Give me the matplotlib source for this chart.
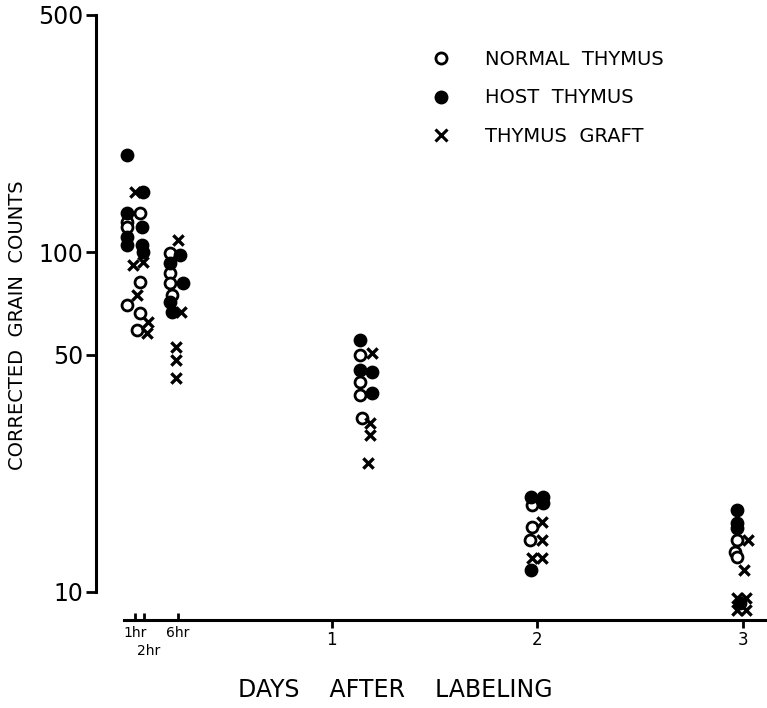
import matplotlib.pyplot as plt
from matplotlib.lines import Line2D

plt.rcParams['font.family'] = ['DejaVu Sans']

# time after labeling in days (1hr = 1/24 day), grain counts per animal
normal_dias = [0.066, 0.002, 0.002, 0.066, 0.002, 0.066, 0.051,
               0.212, 0.212, 0.212, 0.221,
               1.136, 1.136, 1.136, 1.144,
               1.972, 1.972, 1.965,
               2.970, 2.962, 2.970]
normal_graos = [130.6, 122.9, 118.8, 81.8, 70.0, 66.3, 59.1,
                99.6, 87.0, 81.3, 74.9,
                49.9, 41.5, 38.0, 32.5,
                18.0, 15.5, 14.2,
                14.2, 13.1, 12.7]

host_dias = [0.002, 0.080, 0.002, 0.002, 0.002, 0.074, 0.074, 0.080,
             0.260, 0.212, 0.275, 0.212, 0.221,
             1.136, 1.136, 1.193, 1.193,
             1.970, 2.025, 2.025, 1.970,
             2.970, 2.970, 2.970, 2.985]
host_graos = [193.6, 150.6, 130.6, 111.0, 105.1, 118.8, 105.1, 100.3,
              98.2, 93.1, 81.3, 71.4, 66.8,
              55.2, 45.0, 44.4, 38.5,
              19.0, 19.0, 18.3, 11.6,
              17.4, 16.0, 15.4, 9.3]

graft_dias = [0.041, 0.034, 0.080, 0.051, 0.106, 0.100,
              0.252, 0.268, 0.243, 0.243, 0.243,
              1.193, 1.185, 1.185, 1.177,
              2.020, 2.020, 1.972, 2.020,
              3.024, 3.004, 2.970, 3.015, 2.970, 3.015]
graft_graos = [150.6, 91.8, 93.7, 74.9, 62.4, 57.9,
               108.8, 66.8, 52.7, 48.2, 42.7,
               50.6, 31.5, 29.0, 24.0,
               16.1, 14.2, 12.6, 12.6,
               14.2, 11.6, 9.6, 9.6, 8.85, 8.85]

y_ticks = [10, 50, 100, 500]
x_ticks = [1, 2, 3]
x_minor = [1 / 24, 2 / 24, 6 / 24]
x_minor_labels = ['1hr', '', '6hr']

fig = plt.figure(figsize=(7.67, 7.08), dpi=100)
ax = fig.add_axes([96 / 767, 88 / 708, 671 / 767, 605 / 708])

ax.scatter(normal_dias, normal_graos, s=62, facecolor='white',
           edgecolor='black', linewidth=2.0, zorder=3)
ax.scatter(host_dias, host_graos, s=80, color='black', zorder=4)
ax.scatter(graft_dias, graft_graos, s=55, marker='x', color='black',
           linewidth=2.4, zorder=5)

ax.set_yscale('log')
ax.set_ylim(8.27, 500)
ax.set_xlim(-0.148, 3.117)

ax.spines['top'].set_visible(False)
ax.spines['right'].set_visible(False)
ax.spines['left'].set_linewidth(2.2)
ax.spines['bottom'].set_linewidth(2.2)
ax.spines['left'].set_bounds(10, 500)
ax.spines['bottom'].set_bounds(-0.01, 3.12)

ax.set_yticks(y_ticks)
ax.set_yticklabels([str(v) for v in y_ticks])
ax.yaxis.set_minor_locator(plt.NullLocator())
ax.tick_params(axis='y', direction='out', length=7, width=2, pad=2,
               labelsize=17)

ax.set_xticks(x_ticks)
ax.set_xticklabels([str(v) for v in x_ticks])
ax.set_xticks(x_minor, minor=True)
ax.set_xticklabels(x_minor_labels, minor=True)
ax.tick_params(axis='x', which='major', direction='out', length=6,
               width=2, pad=2, labelsize=12)
ax.tick_params(axis='x', which='minor', direction='in', length=5,
               width=2, pad=4, labelsize=10)

# the 2hr label sits on a second line, just right of its tick
ax.annotate('2hr', xy=(2 / 24, 0), xycoords=('data', 'axes fraction'),
            xytext=(4, -22), textcoords='offset points',
            ha='center', va='center', fontsize=10)

fig.text(18 / 767, 1 - 325 / 708, 'CORRECTED  GRAIN  COUNTS',
         rotation=90, ha='center', va='center', fontsize=14)
fig.text(395 / 767, 1 - 690 / 708, 'DAYS    AFTER    LABELING',
         ha='center', va='center', fontsize=17)

handles = [
    Line2D([], [], linestyle='none', marker='o', markersize=8,
           markerfacecolor='white', markeredgecolor='black',
           markeredgewidth=2.0),
    Line2D([], [], linestyle='none', marker='o', markersize=9,
           color='black'),
    Line2D([], [], linestyle='none', marker='x', markersize=8,
           color='black', markeredgewidth=2.2),
]
ax.legend(handles, ['NORMAL  THYMUS', 'HOST  THYMUS', 'THYMUS  GRAFT'],
          loc='upper left', bbox_to_anchor=(431 / 767, 1 - 50 / 708),
          bbox_transform=fig.transFigure, frameon=False, fontsize=14,
          handlelength=1.0, handletextpad=1.8, labelspacing=1.0,
          borderpad=0, borderaxespad=0)

fig.savefig('out.png', dpi=100)
